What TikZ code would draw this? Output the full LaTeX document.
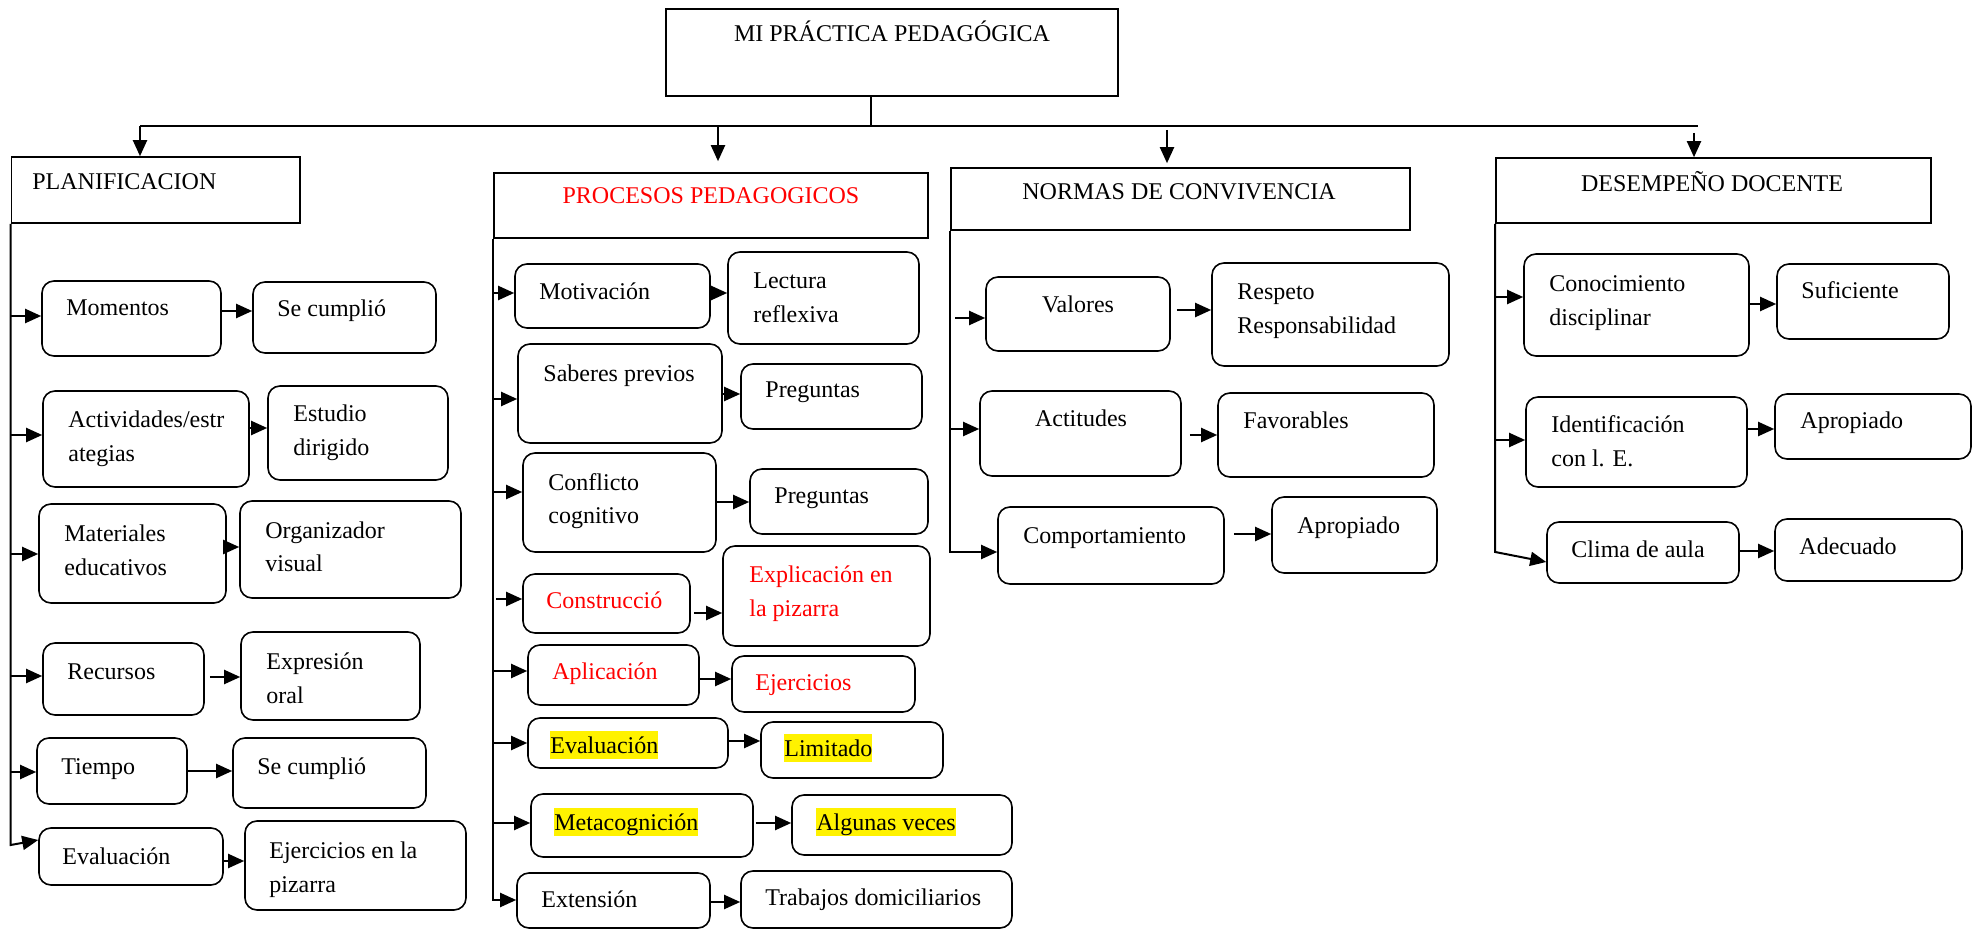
\documentclass[tikz,border=0pt]{standalone}
\usepackage{fontspec}
\setmainfont{Liberation Serif}
\usetikzlibrary{arrows.meta}
\newcommand{\bx}[6]{\node[#2, minimum width={(#5-#3)*0.5pt}, minimum height={(#6-#4)*0.5pt}] (#1) at ({(#3+#5)/2},{(#4+#6)/2}) {};}
\newcommand{\tl}[2]{\begin{tabular}[t]{@{}l@{}}#1\\#2\end{tabular}}
\tikzset{
  rbox/.style={draw, rounded corners=6pt, line width=0.8pt, inner sep=0pt},
  sbox/.style={draw, line width=0.8pt, inner sep=0pt},
  lbl/.style={anchor=base west, inner sep=0pt},
  clbl/.style={anchor=base, inner sep=0pt},
  hl/.style={fill=yellow, text height=10.8pt, text depth=2.8pt},
  arr/.style={line width=1pt, -{Triangle[length=8pt,width=7pt]}},
  ln/.style={line width=1pt}
}
\begin{document}
\begin{tikzpicture}[x=0.5pt,y=-0.5pt,font=\fontsize{12}{17}\selectfont]
\useasboundingbox (0,0) rectangle (1986,930);
% level 0 and level 1 boxes
\bx{top}{sbox}{666}{9}{1118}{96}
\bx{plan}{sbox}{11.5}{157}{300}{223}
\bx{proc}{sbox}{494}{173}{928}{238}
\bx{norm}{sbox}{951}{168}{1410}{230}
\bx{desem}{sbox}{1496}{158}{1931}{223}
\node[clbl] (top-t) at (892,42) {MI PRÁCTICA PEDAGÓGICA};
\node[lbl] (plan-t) at (32,190) {PLANIFICACION};
\node[clbl, text=red] (proc-t) at (711,204) {PROCESOS PEDAGOGICOS};
\node[clbl] (norm-t) at (1179,200) {NORMAS DE CONVIVENCIA};
\node[clbl] (desem-t) at (1712,192) {DESEMPEÑO DOCENTE};
% top connectors
\coordinate (hub) at (870.5,126);
\coordinate (barL) at (140,126);
\coordinate (barR) at (1698,126);
\draw[ln] (top.south -| hub) -- (hub);
\draw[ln] (barL) -- (barR);
\draw[arr] (barL) -- (plan.north -| barL);
\draw[arr, shorten >=5.5pt] (718,126) -- (proc.north -| 718,0);
\draw[arr, shorten <=2pt, shorten >=2pt] (1167,126) -- (norm.north -| 1167,0);
\draw[arr, shorten <=3.5pt] (1694,126) -- (desem.north -| 1694,0);
% PLANIFICACION column
\bx{mom}{rbox}{42}{281}{221}{356}
\bx{sc1}{rbox}{253}{282}{436}{353}
\bx{act}{rbox}{43}{391}{249}{487}
\bx{est}{rbox}{268}{386}{448}{480}
\bx{mat}{rbox}{39}{504}{226}{603}
\bx{org}{rbox}{240}{501}{461}{598}
\bx{rec}{rbox}{43}{643}{204}{715}
\bx{exp}{rbox}{241}{632}{420}{720}
\bx{tie}{rbox}{37}{738}{187}{804}
\bx{sc2}{rbox}{233}{738}{426}{808}
\bx{pev}{rbox}{39}{828}{223}{885}
\bx{eje}{rbox}{245}{821}{466}{910}
\node[lbl] (mom-t) at (66,316) {Momentos};
\node[lbl] (sc1-t) at (277,317) {Se cumplió};
\node[lbl] (act-t) at (68,428) {\tl{Actividades/estr}{ategias}};
\node[lbl] (est-t) at (293,422) {\tl{Estudio}{dirigido}};
\node[lbl] (mat-t) at (64,541) {\tl{Materiales}{educativos}};
\node[lbl] (org-t) at (265,538) {\tl{Organizador}{visual}};
\node[lbl] (rec-t) at (67,679) {Recursos};
\node[lbl] (exp-t) at (266,669) {\tl{Expresión}{oral}};
\node[lbl] (tie-t) at (61,774) {Tiempo};
\node[lbl] (sc2-t) at (257,774) {Se cumplió};
\node[lbl] (pev-t) at (62,864) {Evaluación};
\node[lbl] (eje-t) at (269,858) {\tl{Ejercicios en la}{pizarra}};
\draw[arr] (plan.south west) -- (plan.south west |- 0,845) -- (pev.west |- 0,840);
\draw[arr] (plan.south west |- 0,316) -- (mom.west |- 0,316);
\draw[arr] (plan.south west |- 0,435) -- (act.west |- 0,435);
\draw[arr] (plan.south west |- 0,554) -- (mat.west |- 0,554);
\draw[arr] (plan.south west |- 0,676) -- (rec.west |- 0,676);
\draw[arr] (plan.south west |- 0,772) -- (tie.west |- 0,772);
\draw[arr] (mom.east |- 0,311) -- (sc1.west |- 0,311);
\draw[arr] (act.east |- 0,428) -- (est.west |- 0,428);
\draw[arr] (mat.east |- 0,547) -- (org.west |- 0,547);
\draw[arr, shorten <=2.5pt] (rec.east |- 0,677) -- (exp.west |- 0,677);
\draw[arr] (tie.east |- 0,771) -- (sc2.west |- 0,771);
\draw[arr] (pev.east |- 0,861) -- (eje.west |- 0,861);
% PROCESOS column
\bx{mot}{rbox}{515}{264}{710}{328}
\bx{lec}{rbox}{728}{252}{919}{344}
\bx{sab}{rbox}{518}{344}{722}{443}
\bx{pr1}{rbox}{741}{364}{922}{429}
\bx{con}{rbox}{523}{453}{716}{552}
\bx{pr2}{rbox}{750}{469}{928}{534}
\bx{cst}{rbox}{523}{574}{690}{633}
\bx{exl}{rbox}{723}{546}{930}{646}
\bx{apl}{rbox}{528}{645}{699}{705}
\bx{ejr}{rbox}{732}{656}{915}{712}
\bx{pev2}{rbox}{528}{718}{728}{768}
\bx{lim}{rbox}{761}{722}{943}{778}
\bx{met}{rbox}{531}{794}{753}{857}
\bx{alg}{rbox}{792}{795}{1012}{855}
\bx{ext}{rbox}{517}{873}{710}{928}
\bx{trb}{rbox}{741}{871}{1012}{928}
\node[lbl] (mot-t) at (539,300) {Motivación};
\node[lbl] (lec-t) at (753,289) {\tl{Lectura}{reflexiva}};
\node[lbl] (sab-t) at (543,382) {Saberes previos};
\node[lbl] (pr1-t) at (765,398) {Preguntas};
\node[lbl] (con-t) at (548,490) {\tl{Conflicto}{cognitivo}};
\node[lbl] (pr2-t) at (774,503) {Preguntas};
\node[lbl, text=red] (cst-t) at (546,608) {Construcció};
\node[lbl, text=red] (exl-t) at (749,582) {\tl{Explicación en}{la pizarra}};
\node[lbl, text=red] (apl-t) at (552,679) {Aplicación};
\node[lbl, text=red] (ejr-t) at (755,690) {Ejercicios};
\node[lbl, hl] (pev2-t) at (550,753) {Evaluación};
\node[lbl, hl] (lim-t) at (784,756) {Limitado};
\node[lbl, hl] (met-t) at (554,830) {Metacognición};
\node[lbl, hl] (alg-t) at (816,830) {Algunas veces};
\node[lbl] (ext-t) at (541,907) {Extensión};
\node[lbl] (trb-t) at (765,905) {Trabajos domiciliarios};
\draw[arr] (proc.south west) -- (proc.south west |- 0,900) -- (ext.west |- 0,900);
\draw[arr] (proc.south west |- 0,293) -- (mot.west |- 0,293);
\draw[arr] (proc.south west |- 0,399) -- (sab.west |- 0,399);
\draw[arr] (proc.south west |- 0,492) -- (con.west |- 0,492);
\draw[arr, shorten <=1.5pt] (proc.south west |- 0,599) -- (cst.west |- 0,599);
\draw[arr] (proc.south west |- 0,671) -- (apl.west |- 0,671);
\draw[arr] (proc.south west |- 0,743) -- (pev2.west |- 0,743);
\draw[arr] (proc.south west |- 0,823) -- (met.west |- 0,823);
\draw[arr] (mot.east |- 0,293) -- (lec.west |- 0,293);
\draw[arr] (sab.east |- 0,394) -- (pr1.west |- 0,394);
\draw[arr] (con.east |- 0,502) -- (pr2.west |- 0,502);
\draw[arr, shorten <=1.5pt] (cst.east |- 0,613) -- (exl.west |- 0,613);
\draw[arr] (apl.east |- 0,679) -- (ejr.west |- 0,679);
\draw[arr] (pev2.east |- 0,741) -- (lim.west |- 0,741);
\draw[arr, shorten <=1pt] (met.east |- 0,823) -- (alg.west |- 0,823);
\draw[arr] (ext.east |- 0,902) -- (trb.west |- 0,902);
% NORMAS column
\bx{val}{rbox}{986}{277}{1170}{351}
\bx{res}{rbox}{1212}{263}{1449}{366}
\bx{acti}{rbox}{980}{391}{1181}{476}
\bx{fav}{rbox}{1218}{393}{1434}{477}
\bx{com}{rbox}{998}{507}{1224}{584}
\bx{apr1}{rbox}{1272}{497}{1437}{573}
\node[clbl] (val-t) at (1078,313) {Valores};
\node[lbl] (res-t) at (1237,300) {\tl{Respeto}{Responsabilidad}};
\node[clbl] (acti-t) at (1081,427) {Actitudes};
\node[lbl] (fav-t) at (1243,429) {Favorables};
\node[lbl] (com-t) at (1023,543) {Comportamiento};
\node[lbl] (apr1-t) at (1297,533) {Apropiado};
\draw[arr] (norm.south west) -- (norm.south west |- 0,552) -- (com.west |- 0,552);
\draw[arr, shorten <=2.5pt] (norm.south west |- 0,318) -- (val.west |- 0,318);
\draw[arr] (norm.south west |- 0,429) -- (acti.west |- 0,429);
\draw[arr, shorten <=3pt] (val.east |- 0,310) -- (res.west |- 0,310);
\draw[arr, shorten <=4pt] (acti.east |- 0,435) -- (fav.west |- 0,435);
\draw[arr, shorten <=4.5pt] (com.east |- 0,534) -- (apr1.west |- 0,534);
% DESEMPENO column
\bx{cono}{rbox}{1524}{254}{1749}{356}
\bx{suf}{rbox}{1777}{264}{1949}{339}
\bx{ide}{rbox}{1526}{397}{1747}{487}
\bx{apr2}{rbox}{1775}{394}{1971}{459}
\bx{cli}{rbox}{1547}{522}{1739}{583}
\bx{ade}{rbox}{1775}{519}{1962}{581}
\node[lbl] (cono-t) at (1549,292) {\tl{Conocimiento}{disciplinar}};
\node[lbl] (suf-t) at (1801,299) {Suficiente};
\node[lbl] (ide-t) at (1551,433) {\tl{Identificación}{con l. E.}};
\node[lbl] (apr2-t) at (1800,429) {Apropiado};
\node[lbl] (cli-t) at (1571,557) {Clima de aula};
\node[lbl] (ade-t) at (1799,554) {Adecuado};
\draw[arr] (desem.south west) -- (desem.south west |- 0,552) -- (cli.west |- 0,562);
\draw[arr] (desem.south west |- 0,297) -- (cono.west |- 0,297);
\draw[arr] (desem.south west |- 0,440) -- (ide.west |- 0,440);
\draw[arr] (cono.east |- 0,304) -- (suf.west |- 0,304);
\draw[arr] (ide.east |- 0,429) -- (apr2.west |- 0,429);
\draw[arr] (cli.east |- 0,551) -- (ade.west |- 0,551);
\end{tikzpicture}
\end{document}
